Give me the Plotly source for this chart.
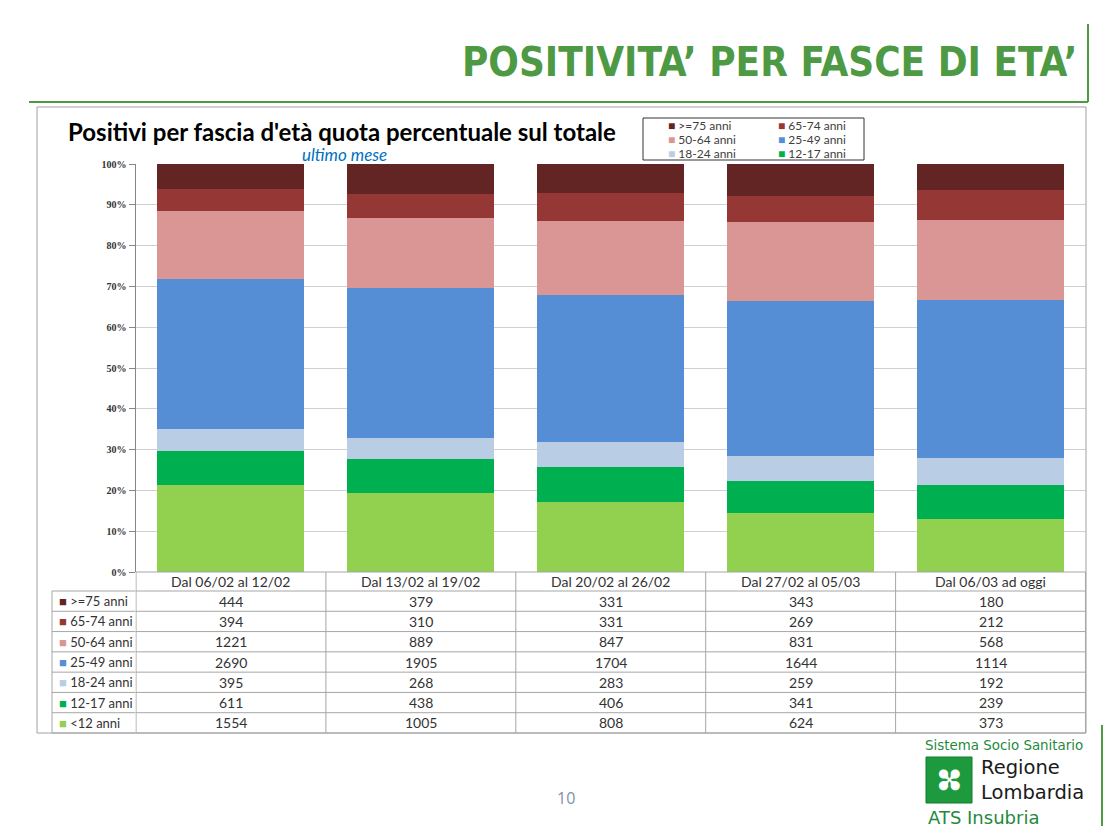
import plotly.graph_objects as go

# --> Data
periods = ["Dal 06/02 al 12/02", "Dal 13/02 al 19/02", "Dal 20/02 al 26/02",
           "Dal 27/02 al 05/03", "Dal 06/03 ad oggi"]
age_groups = [">=75 anni", "65-74 anni", "50-64 anni", "25-49 anni",
              "18-24 anni", "12-17 anni", "<12 anni"]
over_75 = [444, 379, 331, 343, 180]
age_65_74 = [394, 310, 331, 269, 212]
age_50_64 = [1221, 889, 847, 831, 568]
age_25_49 = [2690, 1905, 1704, 1644, 1114]
age_18_24 = [395, 268, 283, 259, 192]
age_12_17 = [611, 438, 406, 341, 239]
under_12 = [1554, 1005, 808, 624, 373]
y_ticks = [0, 10, 20, 30, 40, 50, 60, 70, 80, 90, 100]
y_labels = [f"{v}%" for v in y_ticks]

series = [over_75, age_65_74, age_50_64, age_25_49, age_18_24, age_12_17, under_12]
colors = ["#632523", "#953735", "#d99694", "#558ed5", "#b9cde5", "#00b050", "#92d050"]

W, H = 1116, 831
OX, OY = 8, 8  # page margin of the html body


def px(x):
    return (x - OX) / W


def py(y):
    return 1 - (y - OY) / H


FONT = "Lato, Open Sans, sans-serif"
GREEN = "#4e9a44"
GRID = "#a6a6a6"

fig = go.Figure()

# --> Stacked bars, bottom group first so it sits at the base
for name, vals, col in reversed(list(zip(age_groups, series, colors))):
    fig.add_trace(go.Bar(x=periods, y=vals, name=name, marker_color=col,
                         marker_line_width=0, showlegend=False))

x_left, x_right = 135.5, 1086
y_top, y_bottom = 164, 572

fig.update_layout(
    width=W, height=H, margin=dict(l=0, r=0, t=0, b=0, pad=0, autoexpand=False),
    paper_bgcolor="white", plot_bgcolor="white", showlegend=False,
    barmode="stack", barnorm="percent", bargap=0.226,
    xaxis=dict(domain=[px(x_left), px(x_right)], showticklabels=False,
               showgrid=False, showline=False, zeroline=False, fixedrange=True),
    yaxis=dict(domain=[py(y_bottom), py(y_top)], range=[0, 100],
               tickvals=y_ticks, ticktext=y_labels, ticks="outside", ticklen=6,
               tickcolor="#868686", showline=True, linecolor="#868686",
               gridcolor="#d0d0d0", zeroline=False, fixedrange=True,
               tickfont=dict(family="Liberation Serif", size=10, color="#333333",
                             weight="bold")),
)

shapes = []
annotations = []

# --> Slide frame (green) and chart frame (grey)
shapes.append(dict(type="line", xref="paper", yref="paper", x0=px(29), x1=px(1088),
                   y0=py(102), y1=py(102), line=dict(color=GREEN, width=2)))
shapes.append(dict(type="line", xref="paper", yref="paper", x0=px(1088), x1=px(1088),
                   y0=py(24), y1=py(102), line=dict(color=GREEN, width=2)))
shapes.append(dict(type="line", xref="paper", yref="paper", x0=px(1102), x1=px(1102),
                   y0=py(725), y1=py(826), line=dict(color=GREEN, width=2)))
shapes.append(dict(type="rect", xref="paper", yref="paper", x0=px(37), x1=px(1086),
                   y0=py(733), y1=py(107), line=dict(color="#a0a0a0", width=1)))

annotations.append(dict(text="POSITIVITA\u2019 PER FASCE DI ETA\u2019", xref="paper", yref="paper",
                        x=px(1079), y=py(62), xanchor="right", yanchor="middle", showarrow=False,
                        font=dict(family="Liberation Sans Narrow, DejaVu Sans Condensed",
                                  size=40, color=GREEN, weight="bold")))

# --> Chart titles
annotations.append(dict(text="<b>Positivi per fascia d'età quota percentuale sul totale</b>",
                        xref="paper", yref="paper", x=px(66), y=py(131), xanchor="left",
                        yanchor="middle", showarrow=False,
                        font=dict(family=FONT, size=24, color="black")))
annotations.append(dict(text="<i>ultimo mese</i>", xref="paper", yref="paper", x=px(344), y=py(155),
                        xanchor="center", yanchor="middle", showarrow=False,
                        font=dict(family=FONT, size=17, color="#0070c0")))

# --> Legend box (two columns, without "<12 anni")
shapes.append(dict(type="rect", xref="paper", yref="paper", x0=px(643), x1=px(864),
                   y0=py(160), y1=py(118), line=dict(color="#333333", width=1)))
for i, (name, col) in enumerate(zip(age_groups[:6], colors[:6])):
    lx = 666 if i % 2 == 0 else 776
    ly = 126 + 13.5 * (i // 2)
    annotations.append(dict(text=f"<span style='color:{col}'>■</span> {name}", xref="paper",
                            yref="paper", x=px(lx), y=py(ly), xanchor="left", yanchor="middle",
                            showarrow=False, font=dict(family=FONT, size=12, color="#404040")))

# --> Data table under the plot
row_h = (733 - 591) / 7
row_edges = [591 + row_h * k for k in range(8)]
n = len(periods)
for ye in [572] + row_edges:
    shapes.append(dict(type="line", xref="x", yref="paper", x0=-0.5, x1=n - 0.5,
                       y0=py(ye), y1=py(ye), line=dict(color=GRID, width=1)))
for ye in row_edges:
    shapes.append(dict(type="line", xref="paper", yref="paper", x0=px(52), x1=px(x_left),
                       y0=py(ye), y1=py(ye), line=dict(color=GRID, width=1)))
for k in range(n + 1):
    shapes.append(dict(type="line", xref="x", yref="paper", x0=k - 0.5, x1=k - 0.5,
                       y0=py(572), y1=py(733), line=dict(color=GRID, width=1)))
shapes.append(dict(type="line", xref="paper", yref="paper", x0=px(52), x1=px(52),
                   y0=py(591), y1=py(733), line=dict(color=GRID, width=1)))

for j, period in enumerate(periods):
    annotations.append(dict(text=period, xref="x", yref="paper", x=j, y=py(581.5),
                            xanchor="center", yanchor="middle", showarrow=False,
                            font=dict(family=FONT, size=14, color="#333333")))
for r, (name, vals, col) in enumerate(zip(age_groups, series, colors)):
    yc = py(row_edges[r] + row_h / 2)
    annotations.append(dict(text=f"<span style='color:{col}'>■</span> {name}", xref="paper",
                            yref="paper", x=px(57), y=yc, xanchor="left", yanchor="middle",
                            showarrow=False, font=dict(family=FONT, size=13, color="#333333")))
    for j, v in enumerate(vals):
        annotations.append(dict(text=str(v), xref="x", yref="paper", x=j, y=yc,
                                xanchor="center", yanchor="middle", showarrow=False,
                                font=dict(family=FONT, size=14, color="#333333")))

# --> Footer: page number and logo
annotations.append(dict(text="10", xref="paper", yref="paper", x=px(566), y=py(798),
                        xanchor="center", yanchor="middle", showarrow=False,
                        font=dict(family="Open Sans", size=16, color="#8090a8")))
annotations.append(dict(text="Sistema Socio Sanitario", xref="paper", yref="paper", x=px(1085),
                        y=py(745), xanchor="right", yanchor="middle", showarrow=False,
                        font=dict(family="DejaVu Sans", size=13.4, color="#1e8a3c")))
shapes.append(dict(type="rect", xref="paper", yref="paper", x0=px(926), x1=px(972),
                   y0=py(803), y1=py(757), fillcolor="#1e9a3e", line=dict(color="#137a2e", width=1)))
annotations.append(dict(text="✤", xref="paper", yref="paper", x=px(949), y=py(780),
                        xanchor="center", yanchor="middle", showarrow=False, textangle=45,
                        font=dict(family="DejaVu Sans", size=34, color="white")))
annotations.append(dict(text="Regione<br>Lombardia", xref="paper", yref="paper", x=px(979),
                        y=py(780), xanchor="left", yanchor="middle", showarrow=False, align="left",
                        font=dict(family="DejaVu Sans", size=19.5, color="#1a1a1a")))
annotations.append(dict(text="ATS Insubria", xref="paper", yref="paper", x=px(926), y=py(817),
                        xanchor="left", yanchor="middle", showarrow=False,
                        font=dict(family="DejaVu Sans", size=18, color="#1e8a3c")))

fig.update_layout(shapes=shapes, annotations=annotations)

fig.write_html("out.html")
